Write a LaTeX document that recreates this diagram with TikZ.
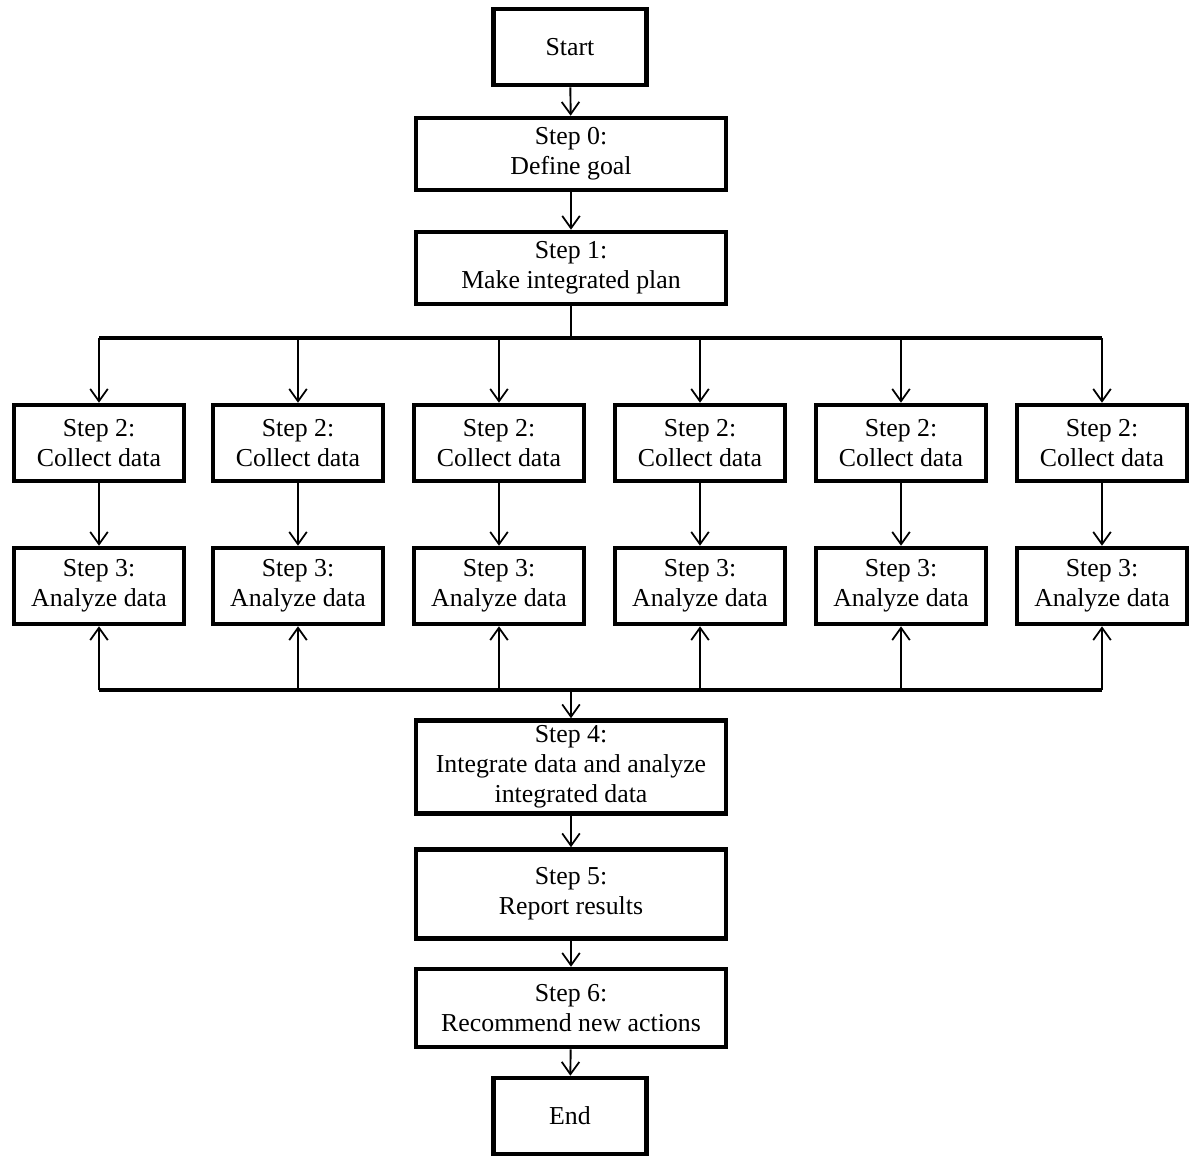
\documentclass[tikz,border=0pt]{standalone}
\usepackage{fontspec}
\setmainfont{Liberation Serif}
\usetikzlibrary{arrows.meta}

\begin{document}
\begin{tikzpicture}[x=0.02cm, y=-0.02cm,
    box/.style={draw, line width=2.6pt, align=center, inner sep=2pt,
      font=\fontsize{14.7}{17}\selectfont},
    wide/.style={box, minimum width=6.2cm},
    small/.style={box, minimum width=3.4cm, minimum height=1.52cm},
    arr/.style={-{Straight Barb[length=7pt, width=10pt, line width=1pt]}, line width=1.1pt},
    bus/.style={line width=1.8pt}]
  \useasboundingbox (0,0) rectangle (1200,1167);

  \node[box, minimum width=3.05cm, minimum height=1.52cm] (start) at (570,47) {Start};
  \node[wide, minimum height=1.44cm] (s0) at (571,154) {Step 0:\\Define goal};
  \node[wide, minimum height=1.44cm] (s1) at (571,268) {Step 1:\\Make integrated plan};

  % bus lines
  \coordinate (topbus) at (571,338);
  \coordinate (botbus) at (571,690);

  % the six parallel columns
  \foreach \i/\x in {1/99, 2/298, 3/499, 4/700, 5/901, 6/1102} {
    \node[small] (c\i) at (\x,443) {Step 2:\\Collect data};
    \node[small] (a\i) at (\x,586) {Step 3:\\Analyze data};
    \draw[arr] (c\i.north |- topbus) -- (c\i);
    \draw[arr] (c\i) -- (a\i);
    \draw[arr] (a\i.south |- botbus) -- (a\i);
  }

  \node[wide, minimum height=1.86cm] (s4) at (571,767) {Step 4:\\Integrate data and analyze\\integrated data};
  \node[wide, minimum height=1.78cm] (s5) at (571,894) {Step 5:\\Report results};
  \node[wide, minimum height=1.56cm] (s6) at (571,1008) {Step 6:\\Recommend new actions};
  \node[box, minimum width=3.05cm, minimum height=1.52cm] (stop) at (570,1116) {End};

  \draw[arr] (start) -- (s0);
  \draw[arr] (s0) -- (s1);
  \draw[line width=1.1pt] (s1) -- (topbus);
  \draw[bus] (c1.north |- topbus) -- (c6.north |- topbus);
  \draw[bus] (a1.south |- botbus) -- (a6.south |- botbus);
  \draw[arr] (botbus) -- (s4);
  \draw[arr] (s4) -- (s5);
  \draw[arr] (s5) -- (s6);
  \draw[arr] (s6) -- (stop);
\end{tikzpicture}
\end{document}
